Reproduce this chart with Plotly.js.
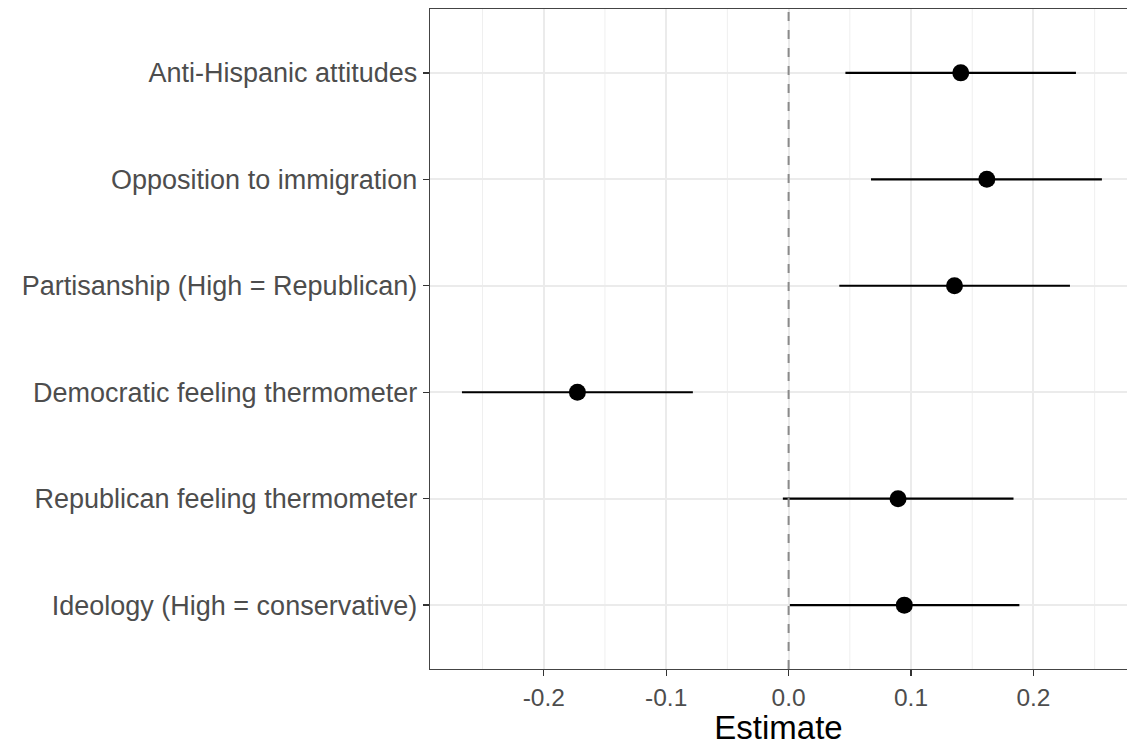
<!DOCTYPE html>
<html>
<head>
<meta charset="utf-8">
<script src="https://cdn.plot.ly/plotly-3.0.1.min.js"></script>
<style>html,body{margin:0;padding:0;background:#fff;}#chart{width:1127px;height:746px;}</style>
</head>
<body>
<div id="chart"></div>
<script>
const categories = [
  "Anti-Hispanic attitudes",
  "Opposition to immigration",
  "Partisanship (High = Republican)",
  "Democratic feeling thermometer",
  "Republican feeling thermometer",
  "Ideology (High = conservative)"
];
const estimates = [0.1406, 0.1619, 0.1355, -0.1725, 0.0894, 0.0945];
const lower     = [0.0464, 0.0673, 0.0414, -0.2668, -0.0047, 0.0010];
const upper     = [0.2347, 0.2559, 0.2298, -0.0782, 0.1837, 0.1885];
const xTicks = [-0.2, -0.1, 0.0, 0.1, 0.2];
const xTickLabels = ["-0.2", "-0.1", "0.0", "0.1", "0.2"];
const xMinor = [-0.25, -0.15, -0.05, 0.05, 0.15, 0.25];
const refLineX = 0;

const trace = {
  type: "scatter",
  mode: "markers",
  x: estimates,
  y: categories,
  marker: {color: "#000000", size: 17},
  error_x: {
    type: "data",
    symmetric: false,
    array: upper.map((u, i) => u - estimates[i]),
    arrayminus: lower.map((l, i) => estimates[i] - l),
    color: "#000000",
    thickness: 2.2,
    width: 0
  },
  hoverinfo: "x+y",
  showlegend: false
};

const minorLines = xMinor.map(v => ({
  type: "line", xref: "x", yref: "paper", x0: v, x1: v, y0: 0, y1: 1,
  line: {color: "#EFEFEF", width: 1}, layer: "between"
}));

const layout = {
  width: 1127,
  height: 746,
  margin: {l: 430, r: 0, t: 9, b: 77},
  paper_bgcolor: "#ffffff",
  plot_bgcolor: "#ffffff",
  font: {family: "Liberation Sans, Arial, sans-serif", color: "#4D4D4D"},
  xaxis: {
    range: [-0.2929, 0.2764],
    tickvals: xTicks,
    ticktext: xTickLabels,
    tickfont: {size: 24.5, color: "#4D4D4D"},
    ticks: "outside",
    ticklen: 6,
    tickwidth: 1.3,
    tickcolor: "#333333",
    showgrid: true,
    gridcolor: "#EBEBEB",
    gridwidth: 2,
    zeroline: false,
    showline: true,
    linecolor: "#444444",
    linewidth: 1.4,
    mirror: true,
    title: {text: "Estimate", font: {size: 33, color: "#000000"}, standoff: 6}
  },
  yaxis: {
    type: "category",
    categoryorder: "array",
    categoryarray: categories,
    range: [5.6, -0.6],
    tickfont: {size: 27, color: "#4D4D4D"},
    ticks: "outside",
    ticklen: 6,
    tickwidth: 1.3,
    tickcolor: "#333333",
    showgrid: true,
    gridcolor: "#EBEBEB",
    gridwidth: 2,
    zeroline: false,
    showline: true,
    linecolor: "#444444",
    linewidth: 1.4,
    mirror: false
  },
  shapes: minorLines.concat([{
    type: "line", xref: "x", yref: "paper", x0: refLineX, x1: refLineX, y0: 0, y1: 1,
    line: {color: "#8A8A8A", width: 2, dash: "dash"}, layer: "above"
  }])
};

Plotly.newPlot("chart", [trace], layout, {displayModeBar: false, staticPlot: true});
</script>
</body>
</html>
